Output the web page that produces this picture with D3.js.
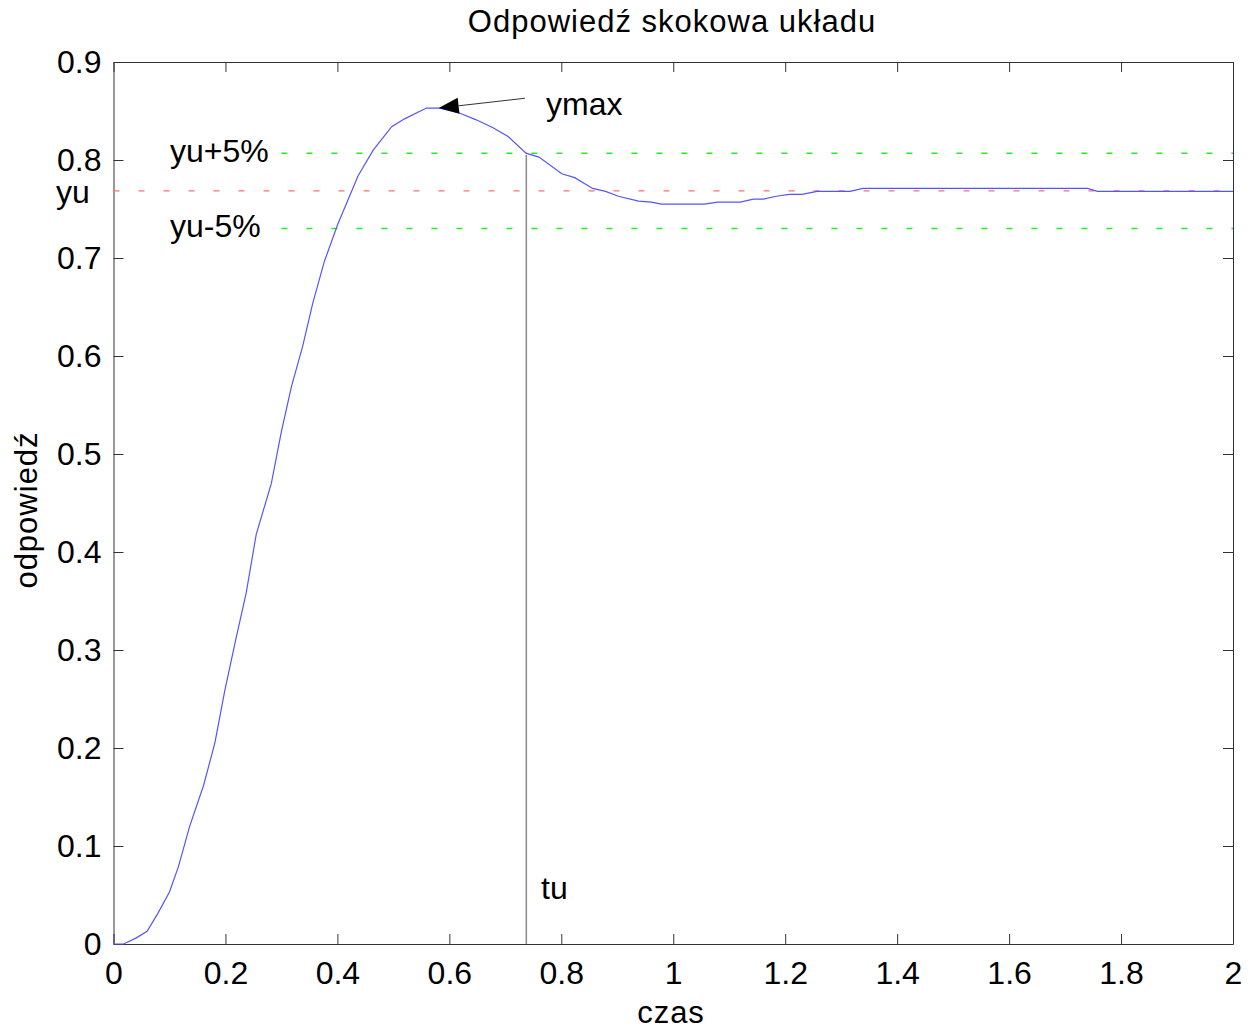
<!DOCTYPE html>
<html>
<head>
<meta charset="utf-8">
<script src="https://cdn.jsdelivr.net/npm/d3@7"></script>
<style>
  body { margin: 0; background: #fff; }
  text { font-family: "Liberation Sans", Arial, sans-serif; fill: #000; }
</style>
</head>
<body>
<script>
// step response samples
var czas = [0, 0.018, 0.04, 0.06, 0.079, 0.10, 0.116, 0.136, 0.161, 0.181, 0.199, 0.219, 0.237, 0.255,
  0.282, 0.30, 0.318, 0.338, 0.356, 0.377, 0.401, 0.437, 0.464, 0.497, 0.52, 0.559, 0.583, 0.618,
  0.648, 0.678, 0.705, 0.737, 0.760, 0.801, 0.824, 0.856, 0.879, 0.902, 0.938, 0.961, 0.979, 1.056,
  1.079, 1.12, 1.143, 1.161, 1.184, 1.207, 1.230, 1.257, 1.316, 1.339, 1.74, 1.758, 2.0];
var odp = [0, 0, 0.006, 0.013, 0.031, 0.053, 0.079, 0.12, 0.162, 0.205, 0.259, 0.312, 0.358, 0.418,
  0.47, 0.523, 0.569, 0.61, 0.654, 0.697, 0.735, 0.784, 0.81, 0.834, 0.842, 0.853, 0.853, 0.848,
  0.841, 0.833, 0.824, 0.807, 0.803, 0.786, 0.782, 0.771, 0.768, 0.763, 0.758, 0.757, 0.755, 0.755,
  0.757, 0.757, 0.760, 0.760, 0.763, 0.765, 0.765, 0.768, 0.768, 0.771, 0.771, 0.768, 0.768];

var yu = 0.7685;
var tu = 0.7375;
var ymax = {t: 0.581, y: 0.853};
var arrowStart = {t: 0.735, y: 0.863};
var xTicks = [0, 0.2, 0.4, 0.6, 0.8, 1, 1.2, 1.4, 1.6, 1.8, 2];
var yTicks = [0, 0.1, 0.2, 0.3, 0.4, 0.5, 0.6, 0.7, 0.8, 0.9];

var margin = {top: 62, right: 19, bottom: 88, left: 113.5},
    width = 1252 - margin.left - margin.right,
    height = 1032 - margin.top - margin.bottom;

var svg0 = d3.select("body").append("svg")
  .attr("width", 1252)
  .attr("height", 1032);
var svg = svg0.append("g")
  .attr("transform", "translate(" + margin.left + "," + margin.top + ")");

var x = d3.scaleLinear().domain([0, 2]).range([0, width]);
var y = d3.scaleLinear().domain([0, 0.9]).range([height, 0]);

var fmt = function(d) { return d3.format("")(+d.toFixed(1)); };

// axes, ticks pointing inward
var xAxis = d3.axisBottom(x).tickValues(xTicks).tickSizeInner(-10).tickSizeOuter(0).tickFormat(fmt);
var yAxis = d3.axisLeft(y).tickValues(yTicks).tickSizeInner(-10).tickSizeOuter(0).tickFormat(fmt);

var gx = svg.append("g").attr("transform", "translate(0," + height + ")").call(xAxis);
gx.selectAll("text").attr("y", 40).attr("dy", null).style("font-size", "32px");
var gy = svg.append("g").call(yAxis);
gy.selectAll("text").attr("x", -12).style("font-size", "32px");

svg.append("g").call(d3.axisTop(x).tickValues(xTicks).tickSizeInner(-10).tickSizeOuter(0).tickFormat(""));
svg.append("g").attr("transform", "translate(" + width + ",0)")
  .call(d3.axisRight(y).tickValues(yTicks).tickSizeInner(-10).tickSizeOuter(0).tickFormat(""));

svg.selectAll(".domain").attr("stroke", "#333");
svg.selectAll(".tick line").attr("stroke", "#333");
svg.selectAll(".tick text").attr("fill", "#000").style("font-family", "'Liberation Sans', Arial, sans-serif");

// reference lines
svg.append("line")
  .attr("x1", x(0)).attr("x2", x(2))
  .attr("y1", y(yu)).attr("y2", y(yu))
  .attr("stroke", "#ff7070").attr("stroke-width", 1.4)
  .attr("stroke-dasharray", "6,19");
[1.05, 0.95].forEach(function(k) {
  svg.append("line")
    .attr("x1", x(0.3)).attr("x2", x(2))
    .attr("y1", y(yu * k)).attr("y2", y(yu * k))
    .attr("stroke", "#22ee22").attr("stroke-width", 1.4)
    .attr("stroke-dasharray", "6,19");
});

// tu vertical line
svg.append("line")
  .attr("x1", x(tu)).attr("x2", x(tu))
  .attr("y1", y(0)).attr("y2", y(yu * 1.048))
  .attr("stroke", "#8a8a8a").attr("stroke-width", 1.5);

// response curve
var pts = czas.map(function(t, i) { return [t, odp[i]]; });
svg.append("path")
  .datum(pts)
  .attr("fill", "none")
  .attr("stroke", "#5555ff")
  .attr("stroke-width", 1.2)
  .attr("d", d3.line().x(function(d) { return x(d[0]); }).y(function(d) { return y(d[1]); }));

// arrow to ymax
var ax0 = x(arrowStart.t), ay0 = y(arrowStart.y), ax1 = x(ymax.t), ay1 = y(ymax.y);
var ang = Math.atan2(ay1 - ay0, ax1 - ax0);
var hl = 20, hw = 8;
var bx = ax1 - hl * Math.cos(ang), by = ay1 - hl * Math.sin(ang);
svg.append("line")
  .attr("x1", ax0).attr("y1", ay0).attr("x2", bx).attr("y2", by)
  .attr("stroke", "#333").attr("stroke-width", 1);
svg.append("path")
  .attr("d", "M" + ax1 + "," + ay1 +
    "L" + (bx + hw * Math.sin(ang)) + "," + (by - hw * Math.cos(ang)) +
    "L" + (bx - hw * Math.sin(ang)) + "," + (by + hw * Math.cos(ang)) + "Z")
  .attr("fill", "#000");

// annotations
function note(txt, px, py) {
  svg0.append("text").attr("x", px).attr("y", py).style("font-size", "32px").text(txt);
}
note("ymax", 546, 115);
note("yu+5%", 170, 162);
note("yu", 56, 203);
note("yu-5%", 170, 237);
note("tu", 541, 899);

// title and axis labels
svg0.append("text")
  .attr("x", 672).attr("y", 32)
  .attr("text-anchor", "middle")
  .style("font-size", "31px").style("letter-spacing", "1px")
  .text("Odpowiedź skokowa układu");
svg0.append("text")
  .attr("x", 671).attr("y", 1023)
  .attr("text-anchor", "middle")
  .style("font-size", "31px").style("letter-spacing", "1px")
  .text("czas");
svg0.append("text")
  .attr("transform", "translate(37,510) rotate(-90)")
  .attr("text-anchor", "middle")
  .style("font-size", "31px").style("letter-spacing", "1px")
  .text("odpowiedź");
</script>
</body>
</html>
